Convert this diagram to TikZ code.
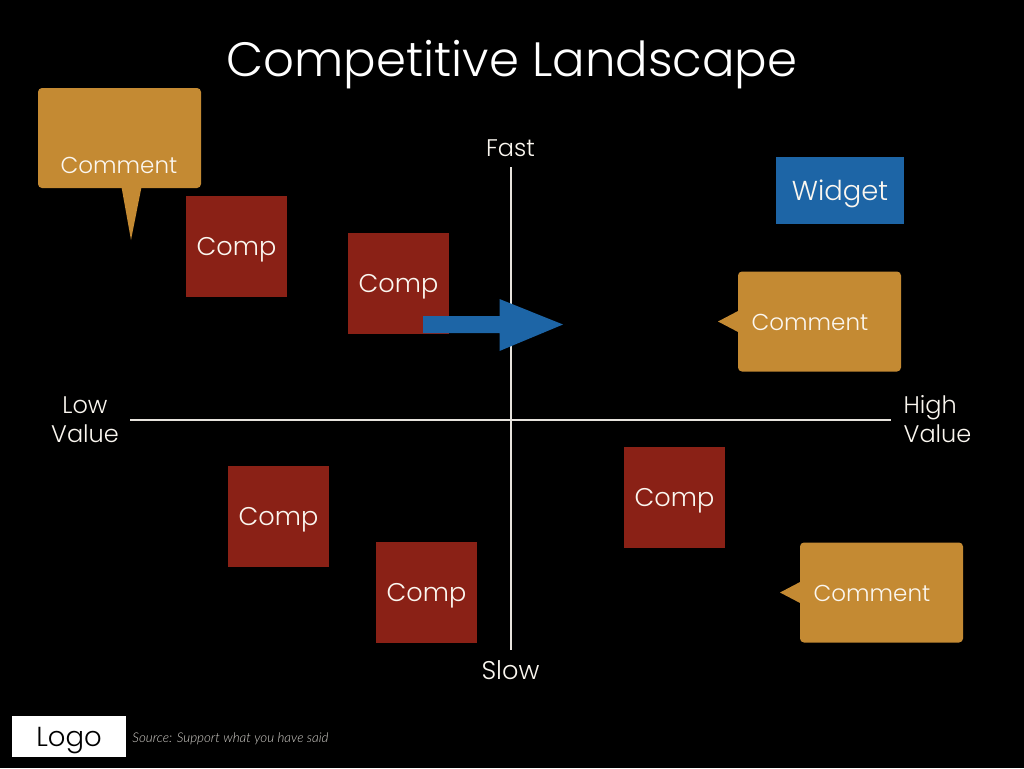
\documentclass[tikz,border=0pt]{standalone}
\usepackage{fontspec}
\setmainfont{Poppins Light}
\newfontfamily\srcfont{Lato Light}
\usetikzlibrary{calc, positioning}

\definecolor{commentcol}{HTML}{C48A33}
\definecolor{compcol}{HTML}{8A2116}
\definecolor{widgetcol}{HTML}{1D65A6}
\definecolor{inkcol}{HTML}{FBF7F0}

\tikzset{
  compbox/.style={fill=compcol, minimum size=101pt, inner sep=0pt, text=inkcol, text depth=0pt, font=\fontsize{25.6}{26}\selectfont},
  commentbox/.style={fill=commentcol, rounded corners=4pt, minimum width=163pt, minimum height=100pt, inner sep=0pt},
  commenttext/.style={anchor=base, text=inkcol, inner sep=0pt, font=\fontsize{23}{23}\selectfont},
  axislabel/.style={text=inkcol, inner sep=0pt, font=\fontsize{24}{29}\selectfont},
  axisline/.style={draw=inkcol!92!black, line width=2pt}
}

\begin{document}
\begin{tikzpicture}[x=1pt, y=-1pt]
  \useasboundingbox (0, 0) rectangle (1024, 768) ;
  \fill[black] (0, 0) rectangle (1024, 768) ;

  \node[text=white, inner sep=0pt, font=\fontsize{48.2}{48}\selectfont] (title) at (512, 65) {Competitive Landscape} ;

  % axes
  \node[axislabel] (fast) at (510.5, 148) {Fast} ;
  \node[axislabel, font=\fontsize{25.6}{29}\selectfont] (slow) at (510.5, 670) {Slow} ;
  \node[axislabel, align=center] (low) at (85, 420) {Low\\Value} ;
  \node[axislabel, align=left] (high) at (937.5, 419) {High\\Value} ;
  \coordinate (top) at (510.5, 167) ;
  \coordinate (bottom) at (510.5, 650) ;
  \coordinate (left) at (130, 419.5) ;
  \coordinate (right) at (891, 419.5) ;
  \draw[axisline] (top) -- (bottom) (left) -- (right) ;

  % competitors
  \node[compbox] (compA) at (236.5, 246.5) {Comp} ;
  \node[compbox] (compB) at (398.5, 283.5) {Comp} ;
  \node[compbox] (compC) at (278.5, 516.5) {Comp} ;
  \node[compbox] (compD) at (426.5, 592.5) {Comp} ;
  \node[compbox] (compE) at (674.5, 497.5) {Comp} ;

  \node[fill=widgetcol, minimum width=128pt, minimum height=67pt, inner sep=0pt, text=inkcol, text depth=0pt, font=\fontsize{27.4}{27}\selectfont] (widget) at (840, 190.5) {Widget} ;

  % move arrow
  \coordinate (tail) at (423, 324.5) ;
  \coordinate (tip) at (563, 324.5) ;
  \coordinate (neck) at (499.5, 324.5) ;
  \fill[widgetcol] ($(tail)+(0, -8.5)$) -- ($(neck)+(0, -8.5)$) -- ($(neck)+(0, -25.5)$) -- (tip)
    -- ($(neck)+(0, 26.5)$) -- ($(neck)+(0, 8.5)$) -- ($(tail)+(0, 8.5)$) -- cycle ;

  % comments
  \node[commentbox] (noteA) at (119.5, 138) {} ;
  \node[commentbox] (noteB) at (819.5, 321.5) {} ;
  \node[commentbox] (noteC) at (881.5, 592.5) {} ;
  \coordinate (noteATip) at (131, 240) ;
  \coordinate (noteBTip) at (718, 321.5) ;
  \coordinate (noteCTip) at (780, 592.5) ;
  \fill[commentcol] (121.5, 187) -- (noteATip) -- (141.5, 187) -- cycle ;
  \fill[commentcol] (739, 310.5) -- (noteBTip) -- (739, 332.5) -- cycle ;
  \fill[commentcol] (801, 581.5) -- (noteCTip) -- (801, 603.5) -- cycle ;
  \node[commenttext] (noteAText) at (119, 173) {Comment} ;
  \node[commenttext] (noteBText) at (810, 330.5) {Comment} ;
  \node[commenttext] (noteCText) at (872, 601.5) {Comment} ;

  % footer
  \node[fill=white, minimum width=114pt, minimum height=41pt, inner sep=0pt, text=black, text depth=0pt, font=\fontsize{27.5}{27}\selectfont] (logo) at (69, 736.5) {Logo} ;
  \node[right=6pt of logo, yshift=-2pt, inner sep=0pt, text=inkcol!85!black, font=\srcfont\itshape\fontsize{13.4}{14}\selectfont] (source) {Source: Support what you have said} ;
\end{tikzpicture}
\end{document}
